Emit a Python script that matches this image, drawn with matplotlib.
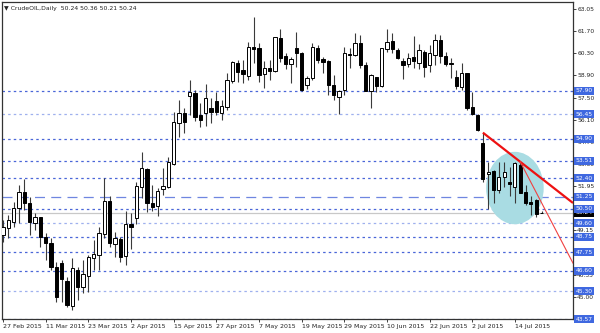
import numpy as np
import matplotlib
matplotlib.use("Agg")
import matplotlib.pyplot as plt
from matplotlib.patches import Ellipse
from matplotlib.transforms import blended_transform_factory

# daily OHLC, 27 Feb 2015 .. 21 Jul 2015
opens = [48.85, 49.27, 49.68, 50.52, 51.57, 50.88, 49.58, 49.96, 48.70, 48.36,
         46.86, 47.07, 45.98, 44.40, 46.65, 45.60, 46.27, 47.38, 47.59, 48.88,
         50.98, 48.26, 48.59, 47.54, 49.53, 49.93, 51.88, 52.99, 50.87, 50.66,
         51.71, 51.88, 53.30, 55.86, 56.53, 57.60, 57.79, 56.38, 56.49, 56.81,
         57.29, 56.54, 56.87, 58.55, 59.68, 59.22, 58.84, 60.68, 60.58, 58.96,
         59.32, 59.17, 61.21, 60.10, 59.58, 60.58, 60.31, 58.27, 58.69, 60.58,
         59.89, 59.78, 58.27, 57.54, 57.96, 60.22, 60.16, 60.89, 59.53, 57.92,
         58.76, 58.21, 60.52, 61.06, 60.47, 59.80, 59.57, 60.01, 59.68, 60.37,
         59.53, 60.16, 61.10, 60.12, 59.66, 58.76, 58.17, 59.01, 56.87, 56.39,
         54.65, 52.66, 52.90, 51.67, 52.52, 52.18, 51.88, 53.24, 51.57, 50.94,
         51.05, 50.24]
highs = [49.79, 50.10, 50.94, 51.99, 52.35, 51.26, 50.21, 50.00, 48.95, 48.64,
         47.17, 47.28, 46.23, 47.38, 46.82, 47.30, 47.59, 48.53, 49.37, 52.45,
         51.29, 49.05, 48.74, 50.37, 50.20, 52.15, 54.08, 53.09, 51.98, 51.82,
         53.03, 53.72, 56.59, 57.33, 56.80, 58.58, 57.99, 57.12, 58.34, 57.44,
         57.85, 57.33, 59.01, 59.80, 59.85, 59.85, 60.99, 62.57, 60.89, 59.78,
         59.85, 61.31, 61.77, 60.26, 60.05, 61.63, 60.37, 58.84, 60.89, 60.79,
         60.05, 59.85, 58.90, 57.96, 60.68, 60.58, 61.52, 61.42, 59.74, 58.96,
         58.80, 60.60, 61.77, 61.52, 60.58, 59.95, 60.30, 61.35, 60.83, 60.47,
         60.79, 61.48, 61.42, 60.37, 59.95, 59.22, 59.63, 59.05, 57.85, 56.45,
         55.28, 53.45, 52.93, 53.45, 53.45, 53.14, 53.45, 53.45, 51.99, 51.30,
         51.09, 50.36]
lows = [48.43, 48.64, 49.37, 49.58, 50.42, 48.85, 49.16, 48.11, 47.28, 46.65,
        44.66, 44.66, 44.34, 44.13, 44.76, 45.18, 45.29, 46.65, 46.65, 48.63,
        48.11, 47.48, 47.17, 46.96, 48.00, 49.53, 51.15, 50.31, 50.37, 50.04,
        51.36, 51.78, 53.24, 55.02, 55.23, 56.38, 56.03, 55.65, 55.70, 55.87,
        56.39, 56.07, 56.70, 58.38, 58.48, 58.42, 58.59, 59.64, 58.48, 58.07,
        58.59, 59.11, 59.74, 59.26, 58.38, 59.43, 57.92, 58.00, 58.59, 59.64,
        59.05, 57.65, 57.33, 56.45, 57.65, 59.32, 60.10, 59.32, 57.90, 56.81,
        57.85, 58.13, 60.37, 60.26, 59.90, 58.63, 59.43, 59.32, 59.26, 58.80,
        59.11, 59.53, 59.64, 59.47, 58.69, 58.00, 57.96, 56.70, 56.39, 55.40,
        52.20, 50.46, 50.83, 51.46, 51.88, 51.30, 50.83, 51.46, 50.73, 50.10,
        50.00, 50.21]
closes = [49.37, 49.79, 50.56, 51.57, 50.88, 49.68, 49.96, 48.70, 48.36, 46.86,
          44.93, 46.06, 44.45, 46.75, 45.60, 46.40, 47.44, 47.65, 48.95, 50.98,
          48.36, 48.67, 47.44, 49.53, 49.37, 51.94, 53.09, 50.87, 50.62, 51.63,
          51.94, 53.45, 55.92, 56.49, 55.92, 57.85, 56.24, 56.07, 57.44, 56.60,
          56.60, 56.95, 58.59, 59.74, 59.11, 58.96, 60.68, 60.52, 58.90, 59.32,
          59.17, 61.27, 59.95, 59.60, 59.89, 60.31, 57.96, 58.69, 60.64, 59.85,
          59.74, 58.27, 57.65, 57.92, 60.26, 60.14, 60.93, 59.53, 57.92, 58.90,
          58.21, 60.58, 61.00, 60.52, 59.95, 59.53, 59.99, 59.80, 60.47, 59.38,
          60.26, 61.10, 60.12, 59.57, 59.60, 58.21, 59.05, 56.81, 56.45, 55.45,
          52.34, 52.83, 51.67, 52.47, 52.78, 52.05, 53.35, 51.50, 50.88, 50.77,
          50.17, 50.24]

date_labels = ["27 Feb 2015", "11 Mar 2015", "23 Mar 2015", "2 Apr 2015",
               "15 Apr 2015", "27 Apr 2015", "7 May 2015", "19 May 2015",
               "29 May 2015", "10 Jun 2015", "22 Jun 2015", "2 Jul 2015",
               "14 Jul 2015"]

# horizontal support/resistance levels
levels = [57.90, 56.45, 54.90, 53.51, 52.40, 50.50, 49.60, 48.75, 47.75,
          46.60, 45.30, 43.57]
pale_levels = [56.45, 49.60, 45.30, 43.57]
dash_level = 51.25
last_price = 50.24

# price scale; the ones fully under a level box are not visible
scale_labels = ["63.05", "61.70", "60.30", "58.90", "57.50", "56.10", "54.70",
                "53.30", "51.95", "", "49.15", "", "46.35", "45.00", ""]

# trend lines (bar index, price)
trend_main = [(90, 55.28), (106.9, 50.86)]
trend_fast = [(97, 53.45), (106.9, 47.08)]

fig = plt.figure(figsize=(6, 3.33), dpi=100)
ax = fig.add_axes([2/600, 14/333, 571/600, 317/333])

n = len(closes)
x = np.arange(n)
o = np.array(opens); c = np.array(closes)
h = np.array(highs); l = np.array(lows)

ax.set_xlim(-0.2, 106.9)
ax.set_ylim(43.57, 63.49)

blue = "#4a66d8"
for lv in levels:
    col = "#9fb0ee" if lv in pale_levels else blue
    ax.axhline(lv, color=col, lw=0.9, ls=(0, (2, 2.5)), zorder=1)
ax.axhline(dash_level, color="#6f86e0", lw=0.9, ls=(0, (8, 5)), zorder=1)
ax.axhline(last_price, color="#c8c8c8", lw=0.9, zorder=1)

ax.add_patch(Ellipse((96.0, 51.8), 10.8, 4.55, angle=0, facecolor="#a9dce3",
                     edgecolor="none", zorder=2))

# candles
ax.vlines(x, l, h, color="#3a3a3a", lw=0.8, zorder=3)
up = c >= o
bottoms = np.minimum(o, c)
heights = np.maximum(np.abs(c - o), 0.02)
ax.bar(x[up], heights[up], bottom=bottoms[up], width=0.6, color="white",
       edgecolor="black", linewidth=0.7, zorder=4)
ax.bar(x[~up], heights[~up], bottom=bottoms[~up], width=0.6, color="black",
       edgecolor="black", linewidth=0.7, zorder=4)

# trend lines
(x0, y0), (x1, y1) = trend_main
ax.plot([x0, x1], [y0, y1], color="#ee1111", lw=1.6, zorder=5,
        solid_capstyle="butt")
(x0, y0), (x1, y1) = trend_fast
ax.plot([x0, x1], [y0, y1], color="#f04040", lw=0.8, zorder=5)

# frame and scales
for s in ax.spines.values():
    s.set_color("#333333")
    s.set_linewidth(0.9)

ticks = np.linspace(63.05, 43.57, len(scale_labels))
ax.yaxis.tick_right()
ax.set_yticks(ticks)
ax.set_yticklabels(scale_labels)
ax.tick_params(axis="y", length=2, width=0.6, pad=1, labelsize=4.3,
               colors="#222222")

xt = np.arange(0, n, 8)[:len(date_labels)]
ax.set_xticks(xt)
ax.set_xticklabels(date_labels)
ax.tick_params(axis="x", length=2, width=0.6, pad=1.5, labelsize=4.5,
               colors="#222222")
for lab in ax.get_xticklabels():
    lab.set_horizontalalignment("left")

tr = blended_transform_factory(ax.transAxes, ax.transData)
ax.text(1.004, last_price, f"{last_price:.2f}", transform=tr, fontsize=4.3,
        color="white", va="center", ha="left", clip_on=False, zorder=10,
        bbox=dict(boxstyle="square,pad=0.25", fc="black", ec="none"))
for lv in levels + [dash_level]:
    ax.text(1.004, lv, f"{lv:.2f}", transform=tr, fontsize=4.3, color="white",
            va="center", ha="left", clip_on=False, zorder=11,
            bbox=dict(boxstyle="square,pad=0.25", fc="#3f68e0", ec="none"))

ax.text(0.004, 0.988, "\u25bc CrudeOIL,Daily  50.24 50.36 50.21 50.24",
        transform=ax.transAxes, fontsize=4.4, va="top", ha="left",
        color="#222222")

fig.savefig("out.png", dpi=100)
